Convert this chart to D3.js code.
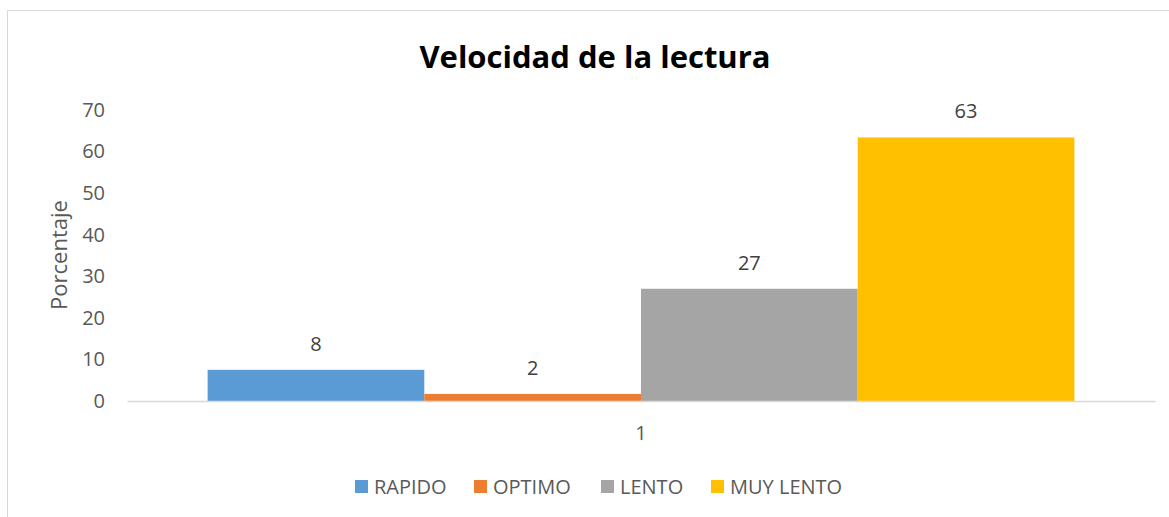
<!DOCTYPE html>
<html>
<head>
<meta charset="utf-8">
<script src="https://cdn.jsdelivr.net/npm/d3@7"></script>
<style>
  body { margin: 0; background: #fff; }
  svg { display: block; font-family: 'Open Sans', sans-serif; }
</style>
</head>
<body>
<div id="chart"></div>
<script>
const categories = ['1'];
const seriesNames = ['RAPIDO', 'OPTIMO', 'LENTO', 'MUY LENTO'];
const seriesValues = [7.5, 1.7, 27.0, 63.4];
const seriesColors = ['#5b9bd5', '#ed7d31', '#a5a5a5', '#ffc000'];
const yTicks = [0, 10, 20, 30, 40, 50, 60, 70];

const W = 1169;
const H = 517;

// plot area
const margin = { top: 110, right: 14, bottom: 116, left: 127 };
const width = W - margin.left - margin.right;
const height = H - margin.top - margin.bottom;

const svg = d3.select('#chart')
  .append('svg')
  .attr('width', W)
  .attr('height', H);

// chart frame
svg.append('rect')
  .attr('x', 7.5)
  .attr('y', 10.5)
  .attr('width', W)
  .attr('height', H)
  .attr('fill', 'none')
  .attr('stroke', '#d9d9d9');

// title
svg.append('text')
  .attr('x', 595)
  .attr('y', 68)
  .attr('text-anchor', 'middle')
  .attr('font-size', 31)
  .attr('font-weight', 'bold')
  .attr('fill', '#000')
  .text('Velocidad de la lectura');

const g = svg.append('g')
  .attr('transform', `translate(${margin.left}, ${margin.top})`);

// scales
const x0 = d3.scaleBand()
  .domain(categories)
  .range([0, width])
  .paddingInner(0)
  .paddingOuter(0.093);

const x1 = d3.scaleBand()
  .domain(seriesNames)
  .range([0, x0.bandwidth()]);

const y = d3.scaleLinear()
  .domain([0, 70])
  .range([height, 0]);

// y axis (no line, no ticks)
const yAxis = g.append('g')
  .call(d3.axisLeft(y).tickValues(yTicks).tickSize(0).tickPadding(22));
yAxis.select('.domain').remove();
yAxis.selectAll('text')
  .attr('font-size', 20)
  .attr('fill', '#595959')
  .style('font-family', "'Open Sans', sans-serif");

// bars
const data = seriesNames.map((name, i) => ({
  name,
  value: seriesValues[i],
  color: seriesColors[i],
}));

const group = g.selectAll('g.group')
  .data(categories)
  .enter()
  .append('g')
  .attr('class', 'group')
  .attr('transform', d => `translate(${x0(d)}, 0)`);

group.selectAll('rect')
  .data(data)
  .enter()
  .append('rect')
  .attr('x', d => x1(d.name))
  .attr('y', d => y(d.value))
  .attr('width', x1.bandwidth())
  .attr('height', d => height - y(d.value))
  .attr('fill', d => d.color);

// data labels
group.selectAll('text.label')
  .data(data)
  .enter()
  .append('text')
  .attr('class', 'label')
  .attr('x', d => x1(d.name) + x1.bandwidth() / 2)
  .attr('y', d => y(d.value) - 19)
  .attr('text-anchor', 'middle')
  .attr('font-size', 20)
  .attr('fill', '#404040')
  .text(d => d3.format('.0f')(d.value));

// x axis
const xAxis = g.append('g')
  .attr('transform', `translate(0, ${height})`)
  .call(d3.axisBottom(x0).tickSize(0).tickPadding(25));
xAxis.select('.domain')
  .attr('stroke', '#d9d9d9')
  .attr('stroke-width', 1.5);
xAxis.selectAll('text')
  .attr('font-size', 20)
  .attr('fill', '#595959')
  .style('font-family', "'Open Sans', sans-serif");

// y axis title
svg.append('text')
  .attr('transform', 'translate(59, 255) rotate(-90)')
  .attr('text-anchor', 'middle')
  .attr('dy', '0.35em')
  .attr('font-size', 22)
  .attr('fill', '#595959')
  .text('Porcentaje');

// legend
const legendX = [355, 474, 601, 711];
const legend = svg.append('g')
  .selectAll('g')
  .data(data)
  .enter()
  .append('g')
  .attr('transform', (d, i) => `translate(${legendX[i]}, 480)`);

legend.append('rect')
  .attr('width', 13)
  .attr('height', 13)
  .attr('fill', d => d.color);

legend.append('text')
  .attr('x', 19)
  .attr('y', 14)
  .attr('font-size', 20)
  .attr('fill', '#595959')
  .text(d => d.name);
</script>
</body>
</html>
